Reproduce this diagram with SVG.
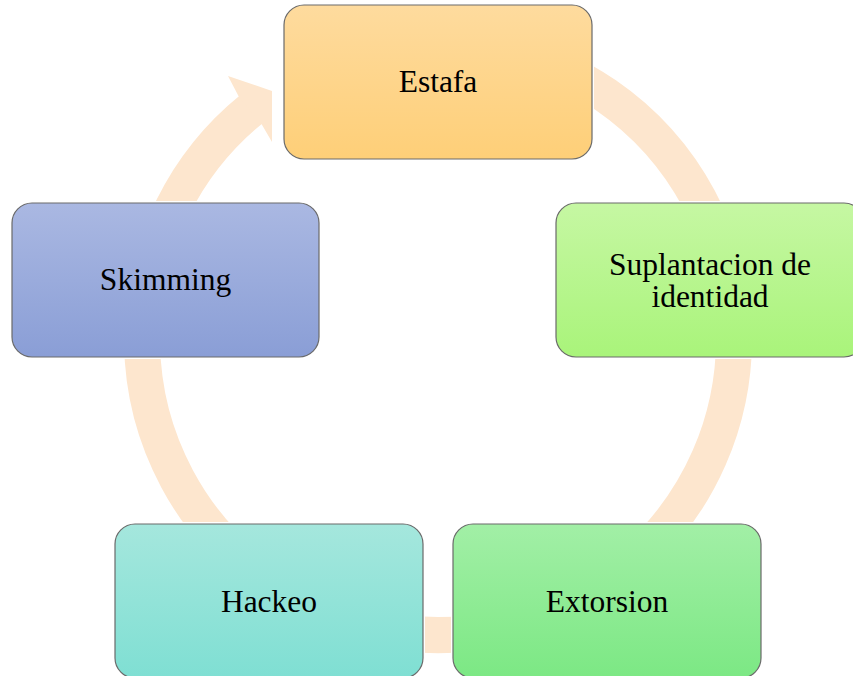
<svg xmlns="http://www.w3.org/2000/svg" width="853" height="676" viewBox="0 0 853 676">
<style>
.halo{fill:none;stroke:#ffffff;stroke-width:4}
.box{stroke:#6a6a6a;stroke-width:1.2}
.lbl{font-family:"Liberation Serif","Times New Roman",serif;font-size:31.5px;fill:#000;text-anchor:middle}
</style>
<defs>
<linearGradient id="gEst" x1="0" y1="0" x2="0" y2="1"><stop offset="0" stop-color="#FEDB9E"/><stop offset="1" stop-color="#FECF78"/></linearGradient>
<linearGradient id="gSup" x1="0" y1="0" x2="0" y2="1"><stop offset="0" stop-color="#C6F7A3"/><stop offset="1" stop-color="#A9F47A"/></linearGradient>
<linearGradient id="gSki" x1="0" y1="0" x2="0" y2="1"><stop offset="0" stop-color="#AAB8E2"/><stop offset="1" stop-color="#8A9ED6"/></linearGradient>
<linearGradient id="gHac" x1="0" y1="0" x2="0" y2="1"><stop offset="0" stop-color="#A5E7DD"/><stop offset="1" stop-color="#7FDFD3"/></linearGradient>
<linearGradient id="gExt" x1="0" y1="0" x2="0" y2="1"><stop offset="0" stop-color="#A2EFA6"/><stop offset="1" stop-color="#7CE884"/></linearGradient>
</defs>
<g id="connectors">
<path d="M 489.4 47.5 A 296 296 0 1 1 251.7 109.0" fill="none" stroke="#FDE6CE" stroke-width="36"/>
<polygon points="238.6,96.3 228,76 272,91 272,142 261.5,124.1" fill="#FDE6CE"/>
</g>
<g id="node-estafa">
<rect class="halo" x="284" y="5" width="308" height="154" rx="20"/>
<rect class="box" x="284" y="5" width="308" height="154" rx="20" fill="url(#gEst)"/>
<text class="lbl" x="438" y="92">Estafa</text>
</g>
<g id="node-suplantacion">
<rect class="halo" x="556" y="203" width="308" height="154" rx="20"/>
<rect class="box" x="556" y="203" width="308" height="154" rx="20" fill="url(#gSup)"/>
<text class="lbl" x="710" y="275">Suplantacion de</text>
<text class="lbl" x="710" y="307">identidad</text>
</g>
<g id="node-extorsion">
<rect class="halo" x="453" y="524" width="308" height="154" rx="20"/>
<rect class="box" x="453" y="524" width="308" height="154" rx="20" fill="url(#gExt)"/>
<text class="lbl" x="607" y="612">Extorsion</text>
</g>
<g id="node-hackeo">
<rect class="halo" x="115" y="524" width="308" height="154" rx="20"/>
<rect class="box" x="115" y="524" width="308" height="154" rx="20" fill="url(#gHac)"/>
<text class="lbl" x="269" y="612">Hackeo</text>
</g>
<g id="node-skimming">
<rect class="halo" x="12" y="203" width="307" height="154" rx="20"/>
<rect class="box" x="12" y="203" width="307" height="154" rx="20" fill="url(#gSki)"/>
<text class="lbl" x="165.5" y="290">Skimming</text>
</g>
</svg>
